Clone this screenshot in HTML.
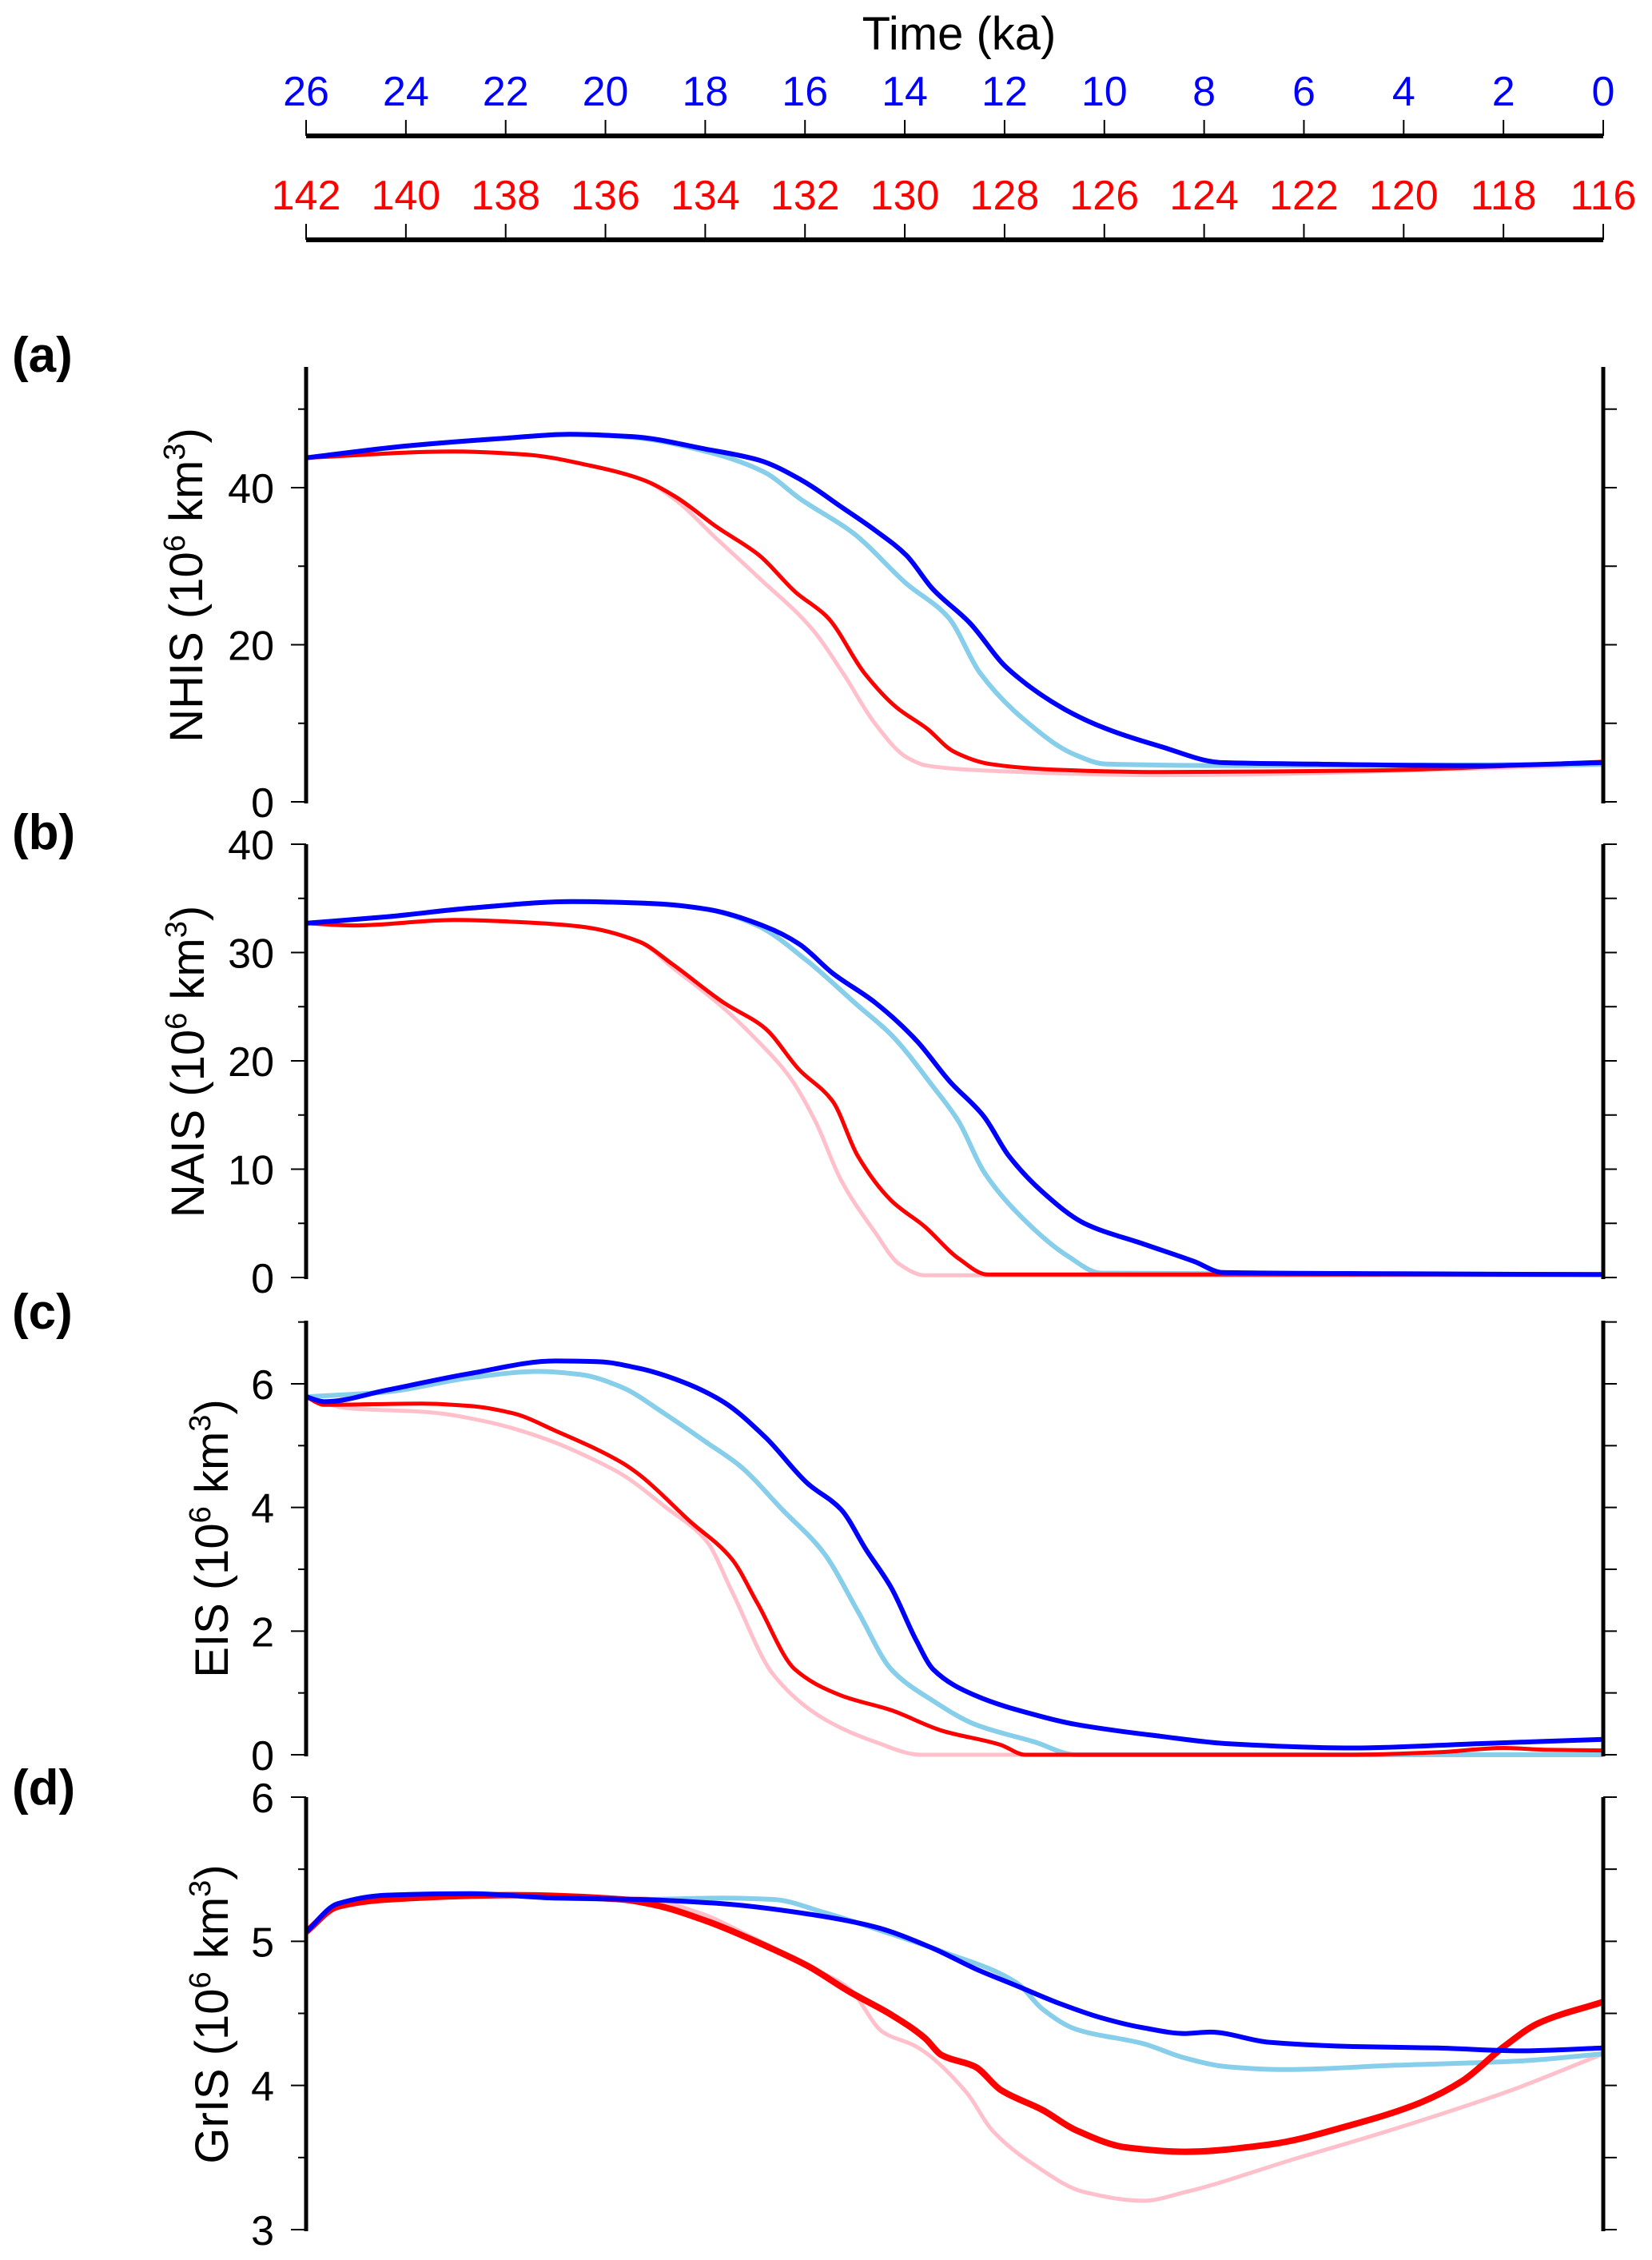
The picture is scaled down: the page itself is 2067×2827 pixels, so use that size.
<!DOCTYPE html>
<html><head><meta charset="utf-8">
<style>
html,body{margin:0;padding:0;background:#fff;}
svg{display:block;font-family:"Liberation Sans",Arial,sans-serif;}
</style></head>
<body>
<svg id="fig" width="2067" height="2827" viewBox="0 0 2067 2827" xmlns="http://www.w3.org/2000/svg">
<text x="1200" y="62" font-size="58" text-anchor="middle">Time (ka)</text>
</svg>
<script>
// ---- data (time in ka, blue axis; red axis = time + 116) ----
const blueTicks = [26,24,22,20,18,16,14,12,10,8,6,4,2,0];
const redTicks = [142,140,138,136,134,132,130,128,126,124,122,120,118,116];

// Panel a: NHIS
const aBlueT = [26,24,22,20.72,19.46,17.98,16.92,16.08,15.24,14.6,13.97,13.44,12.7,11.96,10.8,9.96,8.9,7.64,5.74,2.57,0];
const aBlueV = [43.8,45.3,46.3,46.8,46.5,44.9,43.5,41,37.4,34.6,31.4,27.1,22.8,17.1,11.8,9.3,7.1,5,4.8,4.6,5];
const aCyanT = [26,24,22,20.72,19.46,17.98,16.82,16.08,15.03,13.97,13.13,12.49,11.65,10.59,9.96,6.79,0];
const aCyanV = [43.8,45.3,46.3,46.8,46.4,44.6,42,38.5,34.2,27.8,23.5,16.4,10.7,6,4.8,4.6,4.8];
const aRedT = [26,23.05,21.57,20.3,19.25,18.61,17.77,16.92,16.19,15.55,14.81,14.18,13.55,13.02,12.28,11.01,8.9,4.68,0];
const aRedV = [43.8,44.6,44.2,42.8,41,38.9,35,31.4,26.7,23.5,16.4,12.1,9.3,6.4,4.8,4.1,3.8,4,5.1];
const aPinkT = [26,23.05,21.57,20.3,19.25,18.61,17.77,16.92,15.87,15.24,14.6,13.97,13.55,12.07,8.9,0];
const aPinkV = [43.8,44.6,44.2,42.8,41,38.5,33.5,28.5,22.1,16.4,10,5.7,4.6,3.9,3.4,4.7];

// Panel b: NAIS
const bBlueT = [26,24.37,22.7,20.66,18.98,17.97,16.8,16.12,15.45,14.6,13.77,13.1,12.42,11.91,11.24,10.4,9.22,8.21,7.62,4.17,0];
const bBlueV = [32.7,33.3,34.1,34.7,34.5,34,32.4,30.8,28.1,25.4,21.9,18.1,14.9,11.2,7.9,5,3.1,1.5,0.46,0.35,0.27];
const bCyanT = [26,24.37,22.7,20.66,18.98,17.97,16.96,15.95,14.94,14.27,13.43,12.92,12.42,11.75,10.74,10.06,0];
const bCyanV = [32.7,33.3,34.1,34.7,34.5,34,32.5,29.2,25.1,22.4,17.6,14.4,9.8,6,2,0.4,0.27];
const bRedT = [26,25.04,23.02,21.67,20.5,19.32,18.65,17.64,16.8,16.12,15.45,14.94,14.27,13.6,12.92,12.34,0];
const bRedV = [32.7,32.5,33,32.8,32.4,31,28.9,25.4,23,19.2,16.3,11.2,7.1,4.7,1.75,0.27,0.27];
const bPinkT = [26,25.04,23.02,21.67,20.5,19.32,18.65,17.64,16.96,16.29,15.79,15.28,14.6,14.1,13.6,0];
const bPinkV = [32.7,32.5,33,32.8,32.4,31,28.6,24.9,21.9,18.4,14.4,9,4.2,1.2,0.2,0.2];

// Panel c: EIS
const cBlueT = [26,25.63,24.37,22.7,21,20.17,19.32,18.48,17.64,16.8,15.95,15.28,14.77,14.27,13.77,13.43,12.59,11.41,10.57,8.88,7.54,5.01,2.49,0];
const cBlueV = [5.79,5.71,5.9,6.17,6.37,6.36,6.25,6.04,5.71,5.14,4.39,3.97,3.31,2.7,1.85,1.38,0.96,0.65,0.49,0.3,0.18,0.11,0.18,0.25];
const cCyanT = [26,24.37,22.7,21.34,20.5,19.66,18.82,17.97,17.3,16.46,15.62,14.94,14.27,13.43,12.59,11.41,10.57,0];
const cCyanV = [5.79,5.87,6.1,6.2,6.15,5.94,5.52,5.05,4.67,3.97,3.26,2.32,1.38,0.87,0.49,0.21,0,0];
const cRedT = [26,25.63,23.68,22.7,21.84,21,19.66,19.32,18.31,17.47,16.96,16.2,15.28,14.27,13.26,12.08,11.58,5.01,3.33,1.99,1.15,0];
const cRedV = [5.79,5.66,5.68,5.64,5.52,5.24,4.72,4.53,3.78,3.17,2.46,1.38,0.96,0.72,0.39,0.16,0,0,0.04,0.11,0.08,0.07];
const cPinkT = [26,25.2,23.52,22.34,21.17,20.33,19.66,18.82,17.97,17.47,16.63,15.62,14.6,13.68,0];
const cPinkV = [5.79,5.61,5.54,5.38,5.1,4.81,4.53,4.02,3.45,2.65,1.29,0.58,0.21,0,0];

// Panel d: GrIS
const dBlueT = [26,25.37,24.37,22.7,21,19.32,17.64,15.95,14.6,13.43,12.59,11.75,10.91,10.07,9.22,8.38,7.88,6.7,5.01,3.33,1.65,0];
const dBlueV = [5.065,5.26,5.32,5.33,5.3,5.29,5.26,5.19,5.1,4.95,4.81,4.69,4.57,4.47,4.4,4.36,4.37,4.3,4.27,4.26,4.24,4.26];
const dCyanT = [26,25.37,24.37,22.7,21,19.32,17.64,16.63,15.62,14.27,13.26,11.75,11.24,10.57,9.22,8.38,7.54,6.36,4.17,1.65,0];
const dCyanV = [5.065,5.26,5.32,5.33,5.3,5.29,5.3,5.29,5.2,5.05,4.93,4.71,4.53,4.39,4.29,4.19,4.13,4.11,4.14,4.17,4.22];
const dRedT = [26,25.37,24.37,21.84,19.66,18.98,17.97,16.8,15.95,15.11,14.27,13.6,13.26,12.59,12.08,11.24,10.57,9.56,8.38,6.7,5.01,3.67,2.83,1.99,1.31,0];
const dRedV = [5.065,5.24,5.29,5.32,5.29,5.25,5.14,4.97,4.83,4.65,4.49,4.33,4.21,4.13,3.97,3.83,3.69,3.57,3.54,3.59,3.73,3.88,4.03,4.27,4.43,4.58];
const dPinkT = [26,25.37,24.37,21.84,19.66,19.32,18.14,17.13,15.95,15.11,14.44,13.77,12.76,12.25,11.41,10.4,9.22,8.38,6.19,4.17,1.82,0];
const dPinkV = [5.065,5.24,5.29,5.32,5.3,5.3,5.2,5.04,4.83,4.67,4.37,4.27,3.95,3.69,3.45,3.26,3.2,3.26,3.49,3.7,3.97,4.22];

// ---- layout ----
const NS = 'http://www.w3.org/2000/svg';
const svg = document.getElementById('fig');
const X0 = 383, X1 = 2006;
function xScale(t){ return X0 + (26 - t) / 26 * (X1 - X0); }
function mk(tag, attrs){ const e = document.createElementNS(NS, tag); for (const k in attrs) e.setAttribute(k, attrs[k]); svg.appendChild(e); return e; }
// monotone cubic (Fritsch-Carlson), x strictly increasing
function smoothPath(pts){
  const n = pts.length;
  const dx = [], sl = [];
  for (let i = 0; i < n-1; i++) { dx[i] = pts[i+1][0]-pts[i][0]; sl[i] = (pts[i+1][1]-pts[i][1]) / dx[i]; }
  const m = [];
  m[0] = sl[0]; m[n-1] = sl[n-2];
  for (let i = 1; i < n-1; i++) {
    if (sl[i-1]*sl[i] <= 0) m[i] = 0;
    else { const w1 = 2*dx[i]+dx[i-1], w2 = dx[i]+2*dx[i-1]; m[i] = (w1+w2)/(w1/sl[i-1]+w2/sl[i]); }
  }
  let d = 'M' + pts[0][0].toFixed(1) + ' ' + pts[0][1].toFixed(1);
  for (let i = 0; i < n-1; i++) {
    const h = dx[i]/3;
    d += ' C' + (pts[i][0]+h).toFixed(1) + ' ' + (pts[i][1]+m[i]*h).toFixed(1) + ' ' +
         (pts[i+1][0]-h).toFixed(1) + ' ' + (pts[i+1][1]-m[i+1]*h).toFixed(1) + ' ' +
         pts[i+1][0].toFixed(1) + ' ' + pts[i+1][1].toFixed(1);
  }
  return d;
}

// top time axes
function timeAxis(labels, lineY, baseY, color, name){
  const ln = mk('line', {x1:X0, x2:X1, y1:lineY, y2:lineY, stroke:'#000', 'stroke-width':6});
  
  
  labels.forEach((lab, i) => {
    const x = xScale(blueTicks[i]);
    const tk = mk('line', {x1:x, x2:x, y1:lineY-20, y2:lineY, stroke:'#000', 'stroke-width':2});
    
    
    const tx = mk('text', {x:x, y:baseY, 'font-size':52, 'text-anchor':'middle', fill:color});
    tx.textContent = lab;
    
    
  });
}
timeAxis(blueTicks, 170, 132, '#0000ff', 'blue-time-axis');
timeAxis(redTicks, 300, 262, '#ff0000', 'red-time-axis');

const panels = [
  {id:'a', label:'(a)', name:'NHIS', labY:465, top:459, bot:1005, v0:0, y0:1003, v1:40, y1:610, min:0, max:50, major:20, minor:10, tx:253,
   series:[[aPinkT,aPinkV,'#ffc0cb'],[aCyanT,aCyanV,'#87ceeb'],[aRedT,aRedV,'#ff0000'],[aBlueT,aBlueV,'#0000ff']]},
  {id:'b', label:'(b)', name:'NAIS', labY:1062, top:1056, bot:1600, v0:0, y0:1598, v1:40, y1:1056, min:0, max:40, major:10, minor:5, tx:255,
   series:[[bPinkT,bPinkV,'#ffc0cb'],[bCyanT,bCyanV,'#87ceeb'],[bRedT,bRedV,'#ff0000'],[bBlueT,bBlueV,'#0000ff']]},
  {id:'c', label:'(c)', name:'EIS', labY:1662, top:1652, bot:2197, v0:0, y0:2195, v1:6, y1:1731, min:0, max:7, major:2, minor:1, tx:285,
   series:[[cPinkT,cPinkV,'#ffc0cb'],[cCyanT,cCyanV,'#87ceeb'],[cRedT,cRedV,'#ff0000'],[cBlueT,cBlueV,'#0000ff']]},
  {id:'d', label:'(d)', name:'GrIS', labY:2257, top:2248, bot:2791, v0:3, y0:2789, v1:6, y1:2248, min:3, max:6, major:1, minor:0.5, tx:285,
   series:[[dPinkT,dPinkV,'#ffc0cb'],[dCyanT,dCyanV,'#87ceeb'],[dRedT,dRedV,'#ff0000'],[dBlueT,dBlueV,'#0000ff']]}
];
const seriesNames = ['pink-series','skyblue-series','red-series','blue-series'];

panels.forEach(p => {
  const yS = v => p.y0 + (v - p.v0) * (p.y1 - p.y0) / (p.v1 - p.v0);
  const pl = mk('text', {x:15, y:p.labY, 'font-size':62, 'font-weight':'bold'});
  pl.textContent = p.label;
  
  
  // series
  p.series.forEach((s, si) => {
    const pts = s[0].map((t, i) => [xScale(t), yS(s[1][i])]);
    let w = (si % 2 ? 6 : 5);
    if (p.id === 'd' && si === 2) w = 8;
    const path = mk('path', {d:smoothPath(pts), fill:'none', stroke:s[2], 'stroke-width':w, 'stroke-linejoin':'round'});
    
    
  });
  // axes
  const la = mk('line', {x1:X0, x2:X0, y1:p.top, y2:p.bot, stroke:'#000', 'stroke-width':5});
  
  
  const ra = mk('line', {x1:X1, x2:X1, y1:p.top, y2:p.bot, stroke:'#000', 'stroke-width':5});
  
  
  for (let v = p.min; v <= p.max + 1e-9; v += p.minor) {
    const y = yS(v);
    if (y < p.top - 2) continue;
    const isMajor = Math.abs(v / p.major - Math.round(v / p.major)) < 1e-6;
    const lt = mk('line', {x1:X0 - (isMajor ? 19 : 10), x2:X0, y1:y, y2:y, stroke:'#000', 'stroke-width':2});
    
    
    const rt = mk('line', {x1:X1, x2:X1 + 17, y1:y, y2:y, stroke:'#000', 'stroke-width':2});
    
    
    if (isMajor) {
      const tl = mk('text', {x:343, y:y + 19, 'font-size':52, 'text-anchor':'end'});
      tl.textContent = String(Math.round(v * 10) / 10);
      
      
    }
  }
  // y title
  const cy = (p.top + p.bot) / 2;
  const tt = mk('text', {x:0, y:0, 'font-size':58, 'text-anchor':'middle', transform:'translate(' + p.tx + ',' + cy + ') rotate(-90)'});
  tt.innerHTML = p.name + ' (10<tspan font-size="38" dy="-22">6</tspan><tspan dy="22"> km</tspan><tspan font-size="38" dy="-22">3</tspan><tspan dy="22">)</tspan>';
  
  
});
</script>
</body></html>
